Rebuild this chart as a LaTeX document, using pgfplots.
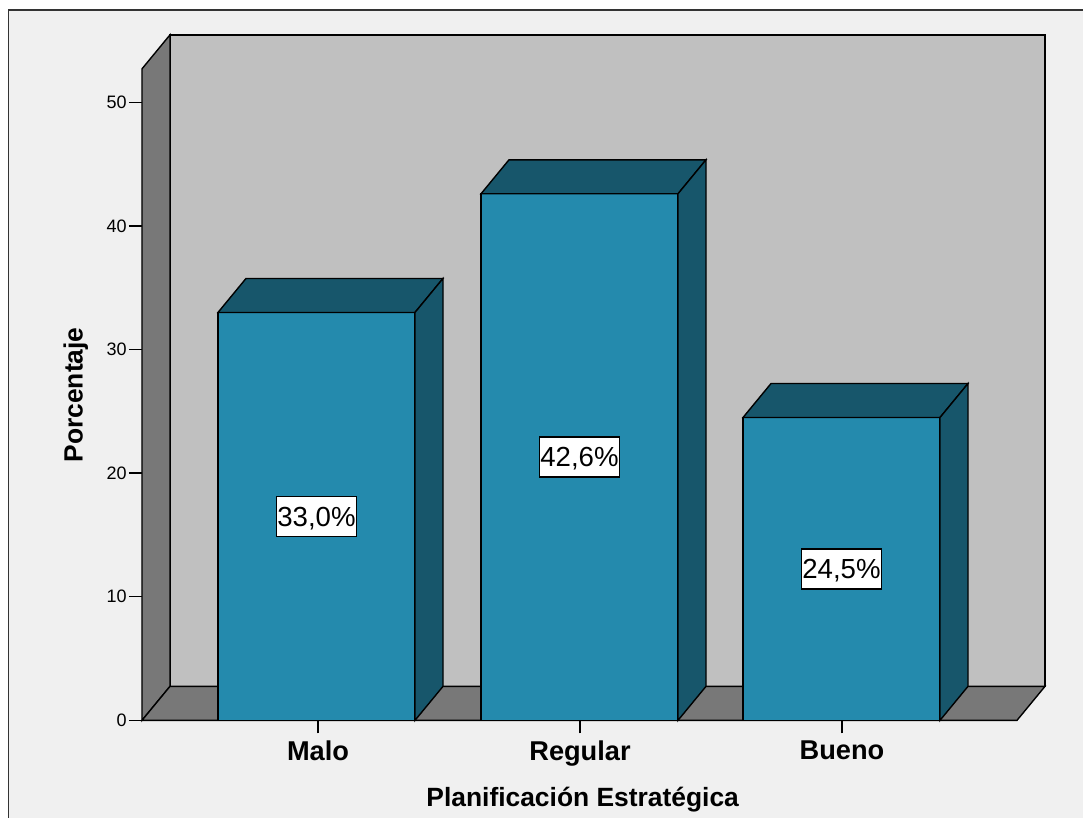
\documentclass[border=0pt]{standalone}
\usepackage{fontspec}
\setmainfont{Liberation Sans}
\usepackage{pgfplots}
\pgfplotsset{compat=1.18}

\definecolor{bgpanel}{HTML}{F0F0F0}
\definecolor{wallback}{HTML}{C0C0C0}
\definecolor{wallside}{HTML}{787878}
\definecolor{barfront}{HTML}{248AAD}
\definecolor{bardark}{HTML}{17566B}

\begin{document}
\begin{tikzpicture}[x=0.5pt,y=0.5pt]
  \useasboundingbox (0,0) rectangle (1083,818);
  \clip (0,0) rectangle (1083,818);
  \fill[white] (0,0) rectangle (1083,818);
  \draw[fill=bgpanel, draw=black!80, line width=0.6pt] (8.5,808) rectangle (1100,-20);

  \begin{axis}[
    at={(142,79)}, anchor=south west,
    scale only axis,
    width=451.5pt, height=342.75pt,
    xmin=142, xmax=1045,
    ymin=0, ymax=55.46,
    clip=false,
    axis lines*=left,
    axis line style={draw=none},
    tick align=outside,
    tick pos=left,
    major tick length=6.5pt,
    tick style={black, line width=0.65pt},
    ytick={0,10,20,30,40,50},
    xtick={318,580,842},
    xticklabels={Malo,Regular,Bueno},
    /pgf/number format/assume math mode=true,
    yticklabel style={font=\fontsize{9}{11}\selectfont, inner sep=1pt},
    xticklabel style={font=\fontsize{13.6}{16}\selectfont\bfseries, inner sep=1.5pt, yshift=-2pt},
    xlabel={Planificación Estratégica},
    ylabel={Porcentaje},
    xlabel style={at={(rel axis cs:0.488,-0.1160)}, anchor=center,
                  font=\fontsize{13.2}{16}\selectfont\bfseries},
    ylabel style={at={(rel axis cs:-0.0733,0.4748)}, anchor=center, rotate=0,
                  font=\fontsize{13.2}{16}\selectfont\bfseries},
    every axis plot/.append style={line width=0.7pt, draw=black},
  ]
    % back wall, left wall and floor of the box
    \addplot[fill=wallback] coordinates {(170,2.75) (1045,2.75) (1045,55.46) (170,55.46)} -- cycle;
    \addplot[fill=wallside] coordinates {(142,0) (142,52.71) (170,55.46) (170,2.75)} -- cycle;
    \addplot[fill=wallside] coordinates {(142,0) (170,2.75) (1045,2.75) (1017,0)} -- cycle;

    % Malo: 33.0
    \addplot[fill=barfront] coordinates {(218,0) (415,0) (415,33.0) (218,33.0)} -- cycle;
    \addplot[fill=bardark] coordinates {(218,33.0) (415,33.0) (443,35.75) (246,35.75)} -- cycle;
    \addplot[fill=bardark] coordinates {(415,0) (443,2.75) (443,35.75) (415,33.0)} -- cycle;

    % Regular: 42.6
    \addplot[fill=barfront] coordinates {(481,0) (678,0) (678,42.6) (481,42.6)} -- cycle;
    \addplot[fill=bardark] coordinates {(481,42.6) (678,42.6) (706,45.35) (509,45.35)} -- cycle;
    \addplot[fill=bardark] coordinates {(678,0) (706,2.75) (706,45.35) (678,42.6)} -- cycle;

    % Bueno: 24.5
    \addplot[fill=barfront] coordinates {(743,0) (940,0) (940,24.5) (743,24.5)} -- cycle;
    \addplot[fill=bardark] coordinates {(743,24.5) (940,24.5) (968,27.25) (771,27.25)} -- cycle;
    \addplot[fill=bardark] coordinates {(940,0) (968,2.75) (968,27.25) (940,24.5)} -- cycle;

    % value labels at half bar height
    \begin{scope}[every node/.style={draw=black, fill=white, line width=0.7pt,
        font=\fontsize{13.8}{16}\selectfont, inner xsep=0pt, inner ysep=5pt,
        minimum width=40pt, text height=9.9pt, text depth=0pt}]
      \node at (axis cs:316.5,16.5) {33,0\%};
      \node at (axis cs:579.5,21.3) {42,6\%};
      \node at (axis cs:841.5,12.25) {24,5\%};
    \end{scope}
  \end{axis}
\end{tikzpicture}
\end{document}
